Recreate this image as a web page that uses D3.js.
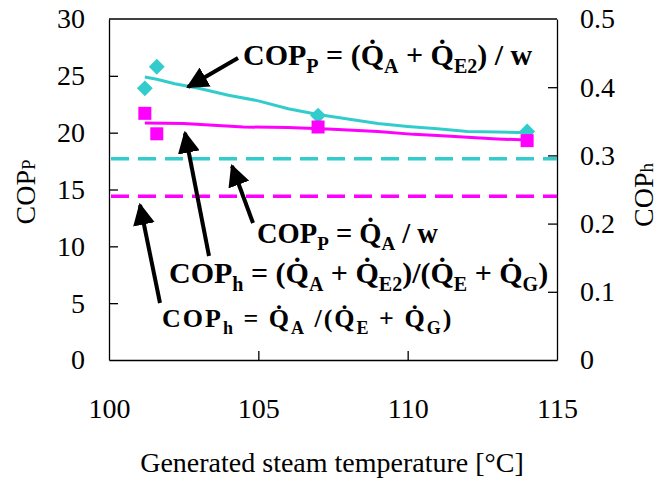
<!DOCTYPE html>
<html>
<head>
<meta charset="utf-8">
<script src="https://cdn.jsdelivr.net/npm/d3@7"></script>
<style>
  body { margin: 0; background: #fff; }
  svg text { font-family: "Liberation Serif", Tinos, "Times New Roman", Times, "DejaVu Serif", serif; }
</style>
</head>
<body>
<div id="chart"></div>
<script>
// x ticks / y ticks
const xTicks = [100, 105, 110, 115];
const yLeftTicks = [0, 5, 10, 15, 20, 25, 30];
const yRightTicks = [0, 0.1, 0.2, 0.3, 0.4, 0.5];

// calculated COP_P = (QA + QE2)/w  (solid cyan line)
const copPLineTemp = [101.2, 101.6, 102.2, 103, 104, 105, 106, 107, 108, 109, 110, 111, 112, 113, 114];
const copPLineVal  = [24.9, 24.7, 24.3, 23.9, 23.3, 22.8, 22.1, 21.6, 21.2, 20.8, 20.55, 20.35, 20.1, 20.05, 20.0];

// calculated COP_h = (QA + QE2)/(QE + QG)  (solid magenta line, left-axis units)
const copHLineTemp = [101.2, 102.5, 103.5, 104.5, 106, 107.5, 109, 110.2, 111, 112, 113, 114];
const copHLineVal  = [20.85, 20.8, 20.65, 20.5, 20.45, 20.3, 20.1, 19.85, 19.75, 19.6, 19.45, 19.35];

// measured points
const copPPointTemp = [101.2, 101.6, 107, 114];
const copPPointVal  = [23.9, 25.8, 21.5, 20.1];
const copHPointTemp = [101.2, 101.6, 107, 114];
const copHPointVal  = [21.7, 19.9, 20.5, 19.3];

// constant references
const copPSimple = 17.7;   // COP_P = QA / w (left axis)
const copHSimple = 0.24;   // COP_h = QA /(QE + QG) (right axis)

const cyan = '#33CCCC';
const magenta = '#FF00FF';
const serif = '"Liberation Serif", Tinos, "Times New Roman", Times, "DejaVu Serif", serif';

const W = 659, H = 479;
const margin = {top: 19, right: 102, bottom: 119, left: 109};
const width = W - margin.left - margin.right;
const height = H - margin.top - margin.bottom;

const svg = d3.select('#chart').append('svg')
  .attr('width', W)
  .attr('height', H)
  .attr('font-family', serif);

const x = d3.scaleLinear().domain([100, 115]).range([margin.left, margin.left + width]);
const yL = d3.scaleLinear().domain([0, 30]).range([margin.top + height, margin.top]);
const yR = d3.scaleLinear().domain([0, 0.5]).range([margin.top + height, margin.top]);

// axes (ticks point inward)
const axisColor = '#000';
const gx = svg.append('g')
  .attr('transform', `translate(0,${margin.top + height})`)
  .call(d3.axisBottom(x).tickValues(xTicks).tickSizeInner(-9).tickSizeOuter(0).tickPadding(38).tickFormat(d3.format('d')));
const gl = svg.append('g')
  .attr('transform', `translate(${margin.left},0)`)
  .call(d3.axisLeft(yL).tickValues(yLeftTicks).tickSizeInner(-9).tickSizeOuter(0).tickPadding(24));
const gr = svg.append('g')
  .attr('transform', `translate(${margin.left + width},0)`)
  .call(d3.axisRight(yR).tickValues(yRightTicks).tickSizeInner(-9).tickSizeOuter(0).tickPadding(23)
    .tickFormat(d => d === 0 ? '0' : d3.format('.1f')(d)));
// top frame
svg.append('line')
  .attr('x1', margin.left).attr('x2', margin.left + width)
  .attr('y1', margin.top).attr('y2', margin.top)
  .attr('stroke', axisColor).attr('stroke-width', 1.3);

[gx, gl, gr].forEach(g => {
  g.attr('font-family', serif);
  g.selectAll('.domain').attr('stroke', axisColor).attr('stroke-width', 1.3);
  g.selectAll('.tick line').attr('stroke', axisColor).attr('stroke-width', 1.3);
  g.selectAll('.tick text')
    .attr('fill', '#000')
    .style('font-family', serif)
    .style('font-size', '28px');
});
// hide end ticks that overlap the frame
gx.selectAll('.tick line').filter(d => d === 100 || d === 115).remove();
gl.selectAll('.tick line').filter(d => d === 0 || d === 30).remove();
gr.selectAll('.tick line').filter(d => d === 0 || d === 0.5).remove();

// axis titles
svg.append('text')
  .attr('x', 332).attr('y', 472)
  .attr('text-anchor', 'middle')
  .style('font-size', '28px')
  .text('Generated steam temperature [°C]');

svg.append('text')
  .attr('transform', 'translate(35,192) rotate(-90)')
  .attr('text-anchor', 'middle')
  .style('font-size', '28px')
  .call(t => {
    t.append('tspan').text('COP');
    t.append('tspan').style('font-size', '19px').text('P');
  });

svg.append('text')
  .attr('transform', 'translate(653,195) rotate(-90)')
  .attr('text-anchor', 'middle')
  .style('font-size', '28px')
  .call(t => {
    t.append('tspan').text('COP');
    t.append('tspan').style('font-size', '19px').text('h');
  });

// dashed reference lines
svg.append('line')
  .attr('x1', margin.left + 2).attr('x2', margin.left + width)
  .attr('y1', yL(copPSimple)).attr('y2', yL(copPSimple))
  .attr('stroke', cyan).attr('stroke-width', 3.5).attr('stroke-dasharray', '18,9');
svg.append('line')
  .attr('x1', margin.left + 2).attr('x2', margin.left + width)
  .attr('y1', yR(copHSimple)).attr('y2', yR(copHSimple))
  .attr('stroke', magenta).attr('stroke-width', 3.5).attr('stroke-dasharray', '18,9');

// solid lines
const line = d3.line().x(d => x(d[0])).y(d => yL(d[1]));
svg.append('path')
  .datum(d3.zip(copPLineTemp, copPLineVal))
  .attr('fill', 'none').attr('stroke', cyan).attr('stroke-width', 3)
  .attr('d', line);
svg.append('path')
  .datum(d3.zip(copHLineTemp, copHLineVal))
  .attr('fill', 'none').attr('stroke', magenta).attr('stroke-width', 3)
  .attr('d', line);

// markers
svg.selectAll('.dia')
  .data(d3.zip(copPPointTemp, copPPointVal))
  .enter().append('path')
  .attr('class', 'dia')
  .attr('transform', d => `translate(${x(d[0])},${yL(d[1])})`)
  .attr('d', d3.symbol(d3.symbolDiamond2, 160)())
  .attr('fill', cyan);
svg.selectAll('.sq')
  .data(d3.zip(copHPointTemp, copHPointVal))
  .enter().append('rect')
  .attr('class', 'sq')
  .attr('x', d => x(d[0]) - 6.5).attr('y', d => yL(d[1]) - 6.5)
  .attr('width', 13).attr('height', 13)
  .attr('fill', magenta);

// annotations
const Q = 'Q\u0307';
function rich(xp, yp, size, parts, spacing) {
  const t = svg.append('text')
    .attr('x', xp).attr('y', yp)
    .attr('font-weight', 'bold')
    .style('font-size', size + 'px')
    .attr('fill', '#000');
  if (spacing) t.attr('letter-spacing', spacing);
  let shifted = 0;
  parts.forEach(([txt, sub]) => {
    const s = t.append('tspan').text(txt);
    const target = sub ? Math.round(size * 0.25) : 0;
    s.attr('dy', target - shifted);
    shifted = target;
    if (sub) s.style('font-size', Math.round(size * 0.68) + 'px');
  });
  return t;
}

rich(243, 65, 30, [['COP'], ['P', 1], [' = ('], [Q], ['A', 1], [' + '], [Q], ['E2', 1], [') / w']]);
rich(257, 243, 28.5, [['COP'], ['P', 1], [' = '], [Q], ['A', 1], [' / w']]);
rich(169, 283, 30, [['COP'], ['h', 1], [' = ('], [Q], ['A', 1], [' + '], [Q], ['E2', 1], [')/('], [Q], ['E', 1], [' + '], [Q], ['G', 1], [')']]);
rich(162, 327, 26, [['COP'], ['h', 1], [' = '], [Q], ['A', 1], [' /('], [Q], ['E', 1], [' + '], [Q], ['G', 1], [')']], 2);

// arrows
svg.append('defs').append('marker')
  .attr('id', 'ah')
  .attr('viewBox', '0 0 10 10')
  .attr('refX', 9).attr('refY', 5)
  .attr('markerWidth', 5.5).attr('markerHeight', 5.5)
  .attr('markerUnits', 'strokeWidth')
  .attr('orient', 'auto')
  .append('path').attr('d', 'M0,0 L10,5 L0,10 z').attr('fill', '#000');

const arrows = [
  [238, 58, 188, 87],
  [253, 223, 232, 166],
  [209, 256, 185, 133],
  [160, 303, 140, 205]
];
svg.selectAll('.arrow')
  .data(arrows)
  .enter().append('line')
  .attr('class', 'arrow')
  .attr('x1', d => d[0]).attr('y1', d => d[1])
  .attr('x2', d => d[2]).attr('y2', d => d[3])
  .attr('stroke', '#000').attr('stroke-width', 4)
  .attr('marker-end', 'url(#ah)');
</script>
</body>
</html>
